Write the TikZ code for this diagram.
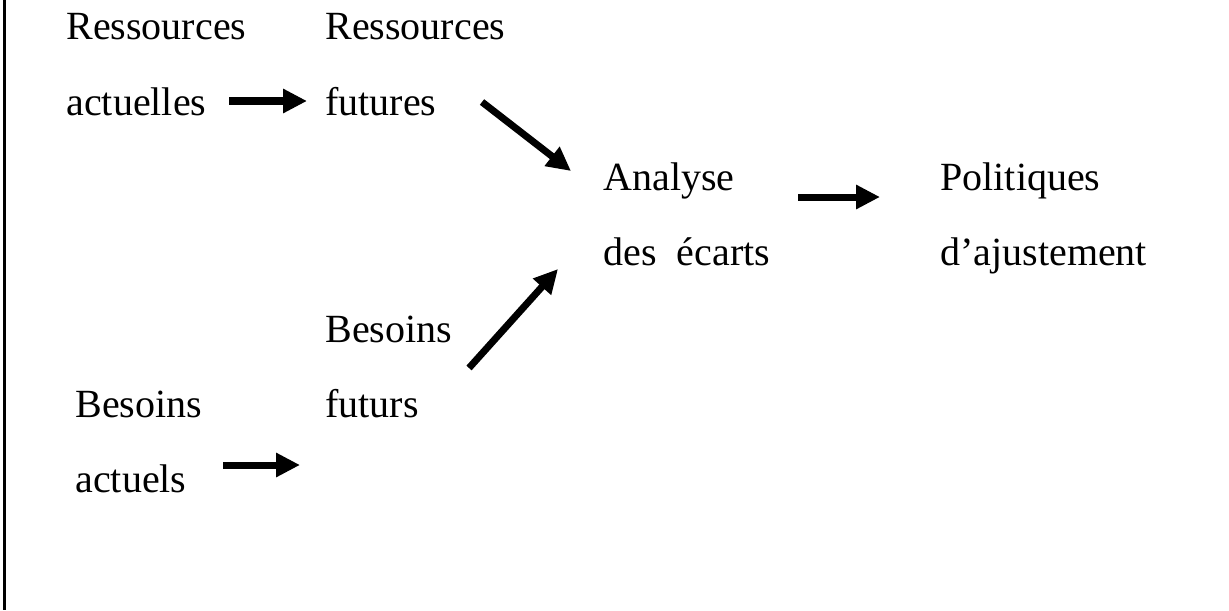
\documentclass[tikz,border=0pt]{standalone}
\usepackage{fontspec}
\setmainfont{Liberation Serif}
\usetikzlibrary{arrows.meta}
\tikzset{
  txt/.style={anchor=base west,inner sep=0pt,font=\fontsize{20pt}{24pt}\selectfont},
  arr/.style={line width=3.5pt,-{Triangle[length=12pt,width=11.5pt]}}
}
\begin{document}
\begin{tikzpicture}[x=0.5pt,y=-0.5pt]
\useasboundingbox (0,0) rectangle (1229,610);
\draw[line width=1.2pt] (4.5,0) -- (4.5,610);
% textes
\node[txt] (ressA) at (66,40) {Ressources};
\node[txt] (actA) at (66,115) {actuelles};
\node[txt] (ressF) at (325,40) {Ressources};
\node[txt] (futF) at (325,115) {futures};
\node[txt] (anal) at (603,190) {Analyse};
\node[txt] (ecarts) at (603,265) {des\ \ écarts};
\node[txt] (polit) at (940,190) {Politiques};
\node[txt] (ajust) at (940,265) {d’ajustement};
\node[txt] (besF) at (325,342) {Besoins};
\node[txt] (futB) at (325,417) {futurs};
\node[txt] (besA) at (75,417) {Besoins};
\node[txt] (actB) at (75,492) {actuels};
% extremites des fleches
\coordinate (r1) at (229,101);
\coordinate (r2) at (307,101);
\coordinate (d1) at (482,102);
\coordinate (d2) at (571,171);
\coordinate (u1) at (469,368);
\coordinate (u2) at (558,269);
\coordinate (p1) at (798,197);
\coordinate (p2) at (880,197);
\coordinate (b1) at (223,465);
\coordinate (b2) at (300,465);
\draw[arr] (r1) -- (r2);
\draw[arr] (d1) -- (d2);
\draw[arr] (u1) -- (u2);
\draw[arr] (p1) -- (p2);
\draw[arr] (b1) -- (b2);
\end{tikzpicture}
\end{document}
